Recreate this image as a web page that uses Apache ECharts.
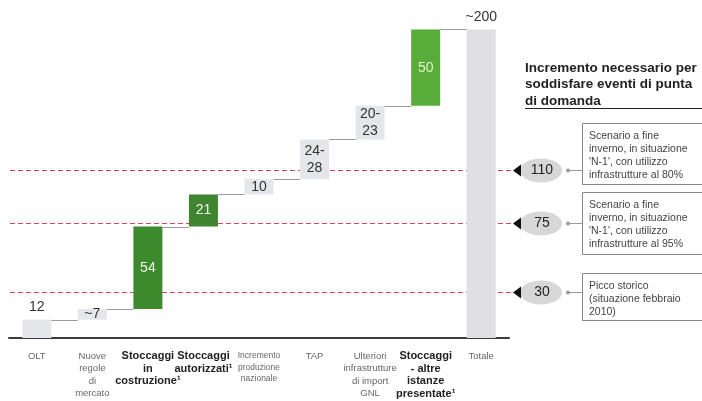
<!DOCTYPE html>
<html><head><meta charset="utf-8">
<script src="https://cdn.jsdelivr.net/npm/echarts@6/dist/echarts.min.js"></script>
<style>html,body{margin:0;padding:0;background:#fff}#c{width:702px;height:401px}</style>
</head><body><div id="c"></div>
<script>
// ---- data ----
const categories = ['OLT', 'Nuove\nregole\ndi\nmercato', 'Stoccaggi\nin\ncostruzione¹', 'Stoccaggi\nautorizzati¹',
  'Incremento\nproduzione\nnazionale', 'TAP', 'Ulteriori\ninfrastrutture\ndi import\nGNL',
  'Stoccaggi\n- altre\nistanze\npresentate¹', 'Totale'];
const increments = [12, 7, 54, 21, 10, 26, 22, 50];
const totalValue = 202;
const valueLabels = ['12', '~7', '54', '21', '10', '24-\n28', '20-\n23', '50', '~200'];
const refLevels = [110, 75, 30];
const refNotes = [
  "Scenario a fine\ninverno, in situazione\n'N-1', con utilizzo\ninfrastrutture al 80%",
  "Scenario a fine\ninverno, in situazione\n'N-1', con utilizzo\ninfrastrutture al 95%",
  "Picco storico\n(situazione febbraio\n2010)"
];
const titleText = 'Incremento necessario per\nsoddisfare eventi di punta\ndi domanda';

// ---- styling / layout ----
const FONT = 'Liberation Sans, Arial, sans-serif';
const labelKinds = ['n', 'n', 'b', 'b', 's', 'n', 'n', 'b', 'n'];
const barColors = ['#e4e6e9', '#e4e6e9', '#3d8a2c', '#3f852f', '#e4e6e9', '#e4e6e9', '#e4e6e9', '#58ac39', '#e0e0e2'];
const labelColors = ['#333', '#333', '#f4f8ee', '#f4f8ee', '#333', '#333', '#333', '#e4f4c8', '#333'];
const labelPos = ['top', 'inside', 'inside', 'inside', 'inside', 'inside', 'inside', 'inside', 'top'];
const noteBoxTop = [-48, -32, -20];
const noteBoxHeight = [61, 62, 47];
const BAR_W = 29;

// waterfall bases
const bases = [];
let acc = 0;
increments.forEach(v => { bases.push(acc); acc += v; });
bases.push(0);
const heights = increments.concat([totalValue]);
const tops = heights.map((h, i) => bases[i] + h);

const chart = echarts.init(document.getElementById('c'));
chart.setOption({
  animation: false,
  backgroundColor: '#fff',
  textStyle: { fontFamily: FONT },
  grid: { left: 9, right: 193, top: 2, bottom: 63 },
  xAxis: {
    type: 'category', data: categories,
    axisLine: { lineStyle: { color: '#3a3a3a', width: 2 } },
    axisTick: { show: false },
    axisLabel: {
      interval: 0, margin: 12,
      formatter: (v, i) => v.split('\n').map(l => '{' + labelKinds[i] + '|' + l + '}').join('\n'),
      rich: {
        n: { fontSize: 9.5, color: '#666', lineHeight: 12.5, fontFamily: FONT },
        s: { fontSize: 8.5, color: '#666', lineHeight: 11.5, fontFamily: FONT },
        b: { fontSize: 11, color: '#222', fontWeight: 'bold', lineHeight: 12.5, fontFamily: FONT }
      }
    }
  },
  yAxis: { type: 'value', min: 0, max: 220, show: false, splitLine: { show: false } },
  series: [
    {
      type: 'custom', z: 1, silent: true,
      data: refLevels.map(v => [0, v]),
      renderItem(params, api) {
        const cs = params.coordSys;
        const y = Math.round(api.coord([0, api.value(1)])[1]) + 0.5;
        return { type: 'line', shape: { x1: cs.x + 1, y1: y, x2: cs.x + cs.width + 4, y2: y },
          style: { stroke: '#d4465a', lineWidth: 1, lineDash: [5, 3] } };
      }
    },
    {
      type: 'bar', stack: 'w', barWidth: BAR_W, z: 2, silent: true,
      itemStyle: { color: 'transparent' },
      data: bases
    },
    {
      type: 'bar', stack: 'w', barWidth: BAR_W, z: 2,
      data: heights.map((h, i) => ({
        value: h,
        itemStyle: { color: barColors[i] },
        label: {
          show: true, position: labelPos[i], distance: 4,
          formatter: valueLabels[i], color: labelColors[i],
          fontSize: 14, lineHeight: 17, fontFamily: FONT
        }
      }))
    },
    {
      type: 'custom', z: 3, silent: true,
      data: tops.slice(0, 8).map((t, i) => [i, t]),
      renderItem(params, api) {
        const p = api.coord([api.value(0), api.value(1)]);
        const bw = api.size([1, 0])[0];
        const y = Math.round(p[1]) + 0.5;
        return { type: 'line', shape: { x1: p[0] + BAR_W / 2, y1: y, x2: p[0] + bw - BAR_W / 2, y2: y },
          style: { stroke: '#9a9a9a', lineWidth: 1 } };
      }
    },
    {
      type: 'custom', z: 4, silent: true, clip: false,
      data: refLevels.map(v => [0, v]),
      renderItem(params, api) {
        const cs = params.coordSys;
        const xR = cs.x + cs.width;
        const idx = params.dataIndex;
        const y = Math.round(api.coord([0, api.value(1)])[1]) + 0.5;
        const top = Math.round(y + noteBoxTop[idx]) + 0.5;
        return {
          type: 'group',
          children: [
            { type: 'ellipse', shape: { cx: xR + 32, cy: y, rx: 21, ry: 12 }, style: { fill: '#d7d7d7' } },
            { type: 'polygon', shape: { points: [[xR + 4, y], [xR + 12, y - 6], [xR + 12, y + 6]] }, style: { fill: '#111' } },
            { type: 'text', style: { text: String(api.value(1)), x: xR + 33, y: y, align: 'center', verticalAlign: 'middle',
              font: '14px ' + FONT, fill: '#222' } },
            { type: 'line', shape: { x1: xR + 59, y1: y, x2: xR + 73, y2: y }, style: { stroke: '#999', lineWidth: 1 } },
            { type: 'circle', shape: { cx: xR + 59, cy: y, r: 2 }, style: { fill: '#999' } },
            { type: 'rect', shape: { x: xR + 73.5, y: top, width: 140, height: noteBoxHeight[idx] },
              style: { fill: '#fff', stroke: '#8a8a8a', lineWidth: 1 } },
            { type: 'text', style: { text: refNotes[idx], x: xR + 80, y: top + 6, font: '10.5px ' + FONT,
              lineHeight: 13, fill: '#444' } }
          ]
        };
      }
    }
  ],
  graphic: [
    { type: 'text', left: 525, top: 60, style: { text: titleText, font: 'bold 13.5px ' + FONT, lineHeight: 16.5, fill: '#222' } },
    { type: 'line', shape: { x1: 525, y1: 108.5, x2: 702, y2: 108.5 }, style: { stroke: '#222', lineWidth: 1 } }
  ]
});
</script>
</body></html>
